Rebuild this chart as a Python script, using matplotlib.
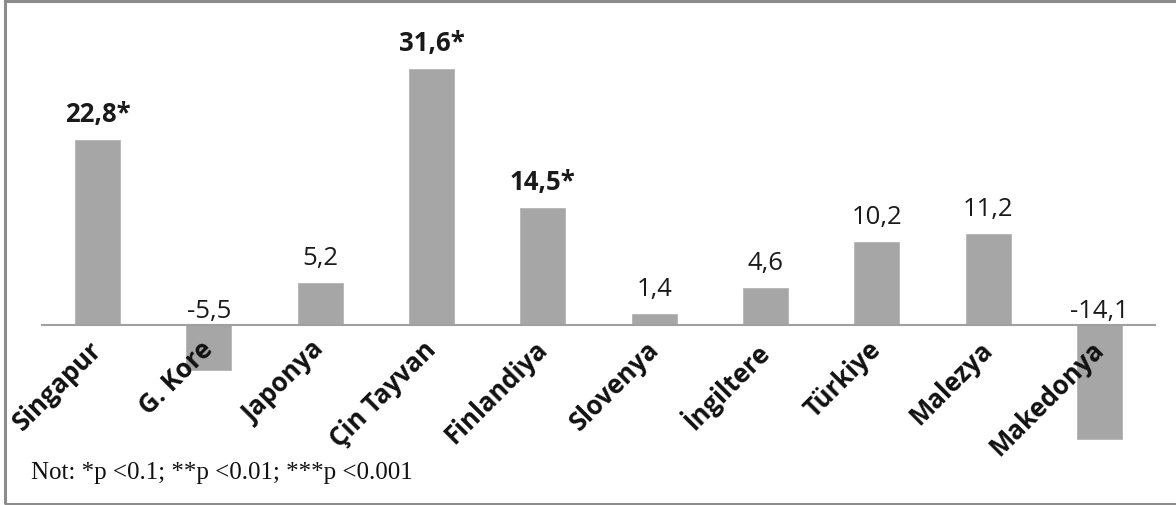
import matplotlib.pyplot as plt
from matplotlib.patches import Rectangle

countries = ["Singapur", "G. Kore", "Japonya", "Çin Tayvan", "Finlandiya",
             "Slovenya", "İngiltere", "Türkiye", "Malezya", "Makedonya"]
values = [22.8, -5.5, 5.2, 31.6, 14.5, 1.4, 4.6, 10.2, 11.2, -14.1]
significant = [True, False, False, True, True, False, False, False, False, False]

bar_color = "#a6a6a6"
label_font = "Open Sans"

fig = plt.figure(figsize=(11.76, 5.06), dpi=100)
ax = fig.add_axes([42 / 1176, 18 / 506, 1113 / 1176, 469.8 / 506])

x = list(range(len(countries)))
ax.bar(x, values, width=0.405, color=bar_color, edgecolor="#b5b5b5", linewidth=0.6, zorder=1)

ax.set_xlim(-0.5, len(countries) - 0.5)
ax.set_ylim(-20, 38)

for side in ["left", "right", "top"]:
    ax.spines[side].set_visible(False)
ax.spines["bottom"].set_position(("data", 0))
ax.spines["bottom"].set_color("#a0a0a0")
ax.spines["bottom"].set_linewidth(1.5)
ax.set_xticks([])
ax.set_yticks([])

# value labels: bold with star when significant
for i, v in enumerate(values):
    txt = f"{v:.1f}".replace(".", ",")
    if significant[i]:
        txt += "*"
    if v >= 0:
        y, dy = v, 19
    else:
        y, dy = 0, 8
    ax.annotate(txt, xy=(i, y), xytext=(0, dy), textcoords="offset pixels",
                ha="center", va="baseline", fontsize=18.5, family=label_font,
                fontweight="bold" if significant[i] else "normal", color="#1a1a1a")

# rotated country names under the zero line
for i, name in enumerate(countries):
    ax.annotate(name, xy=(i, 0), xytext=(10, -10), textcoords="offset pixels",
                rotation=45, ha="right", va="top", fontsize=18.5, family=label_font,
                fontweight="bold", color="#111111", zorder=3)

fig.text(31 / 1176, 1 - 479 / 506, "Not: *p <0.1; **p <0.01; ***p <0.001",
         family="Liberation Serif", fontsize=18, ha="left", va="baseline", color="#111111")

# frame around the whole chart
fig.patches.append(Rectangle((5 / 1176, 1.5 / 506), 1.2, 1 - 3 / 506,
                             transform=fig.transFigure, fill=False,
                             edgecolor="#8c8c8c", linewidth=2.2))

fig.savefig("out.png", dpi=100)
